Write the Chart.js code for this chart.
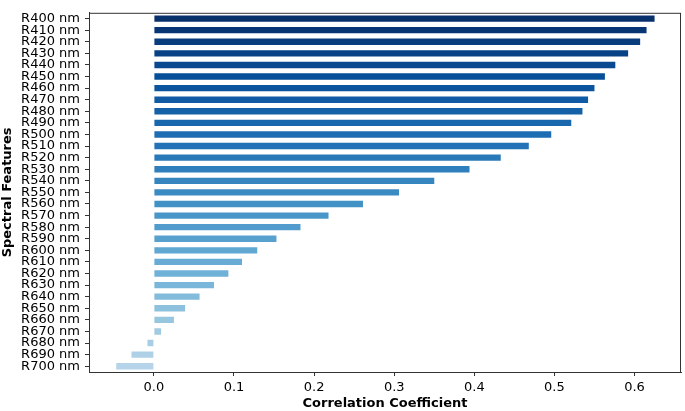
<!DOCTYPE html>
<html>
<head>
<meta charset="utf-8">
<script src="https://cdn.jsdelivr.net/npm/chart.js@4/dist/chart.umd.min.js"></script>
<style>
  html, body { margin: 0; padding: 0; background: #fff; }
  #wrap { width: 685px; height: 411px; }
</style>
</head>
<body>
<div id="wrap"><canvas id="chart" width="685" height="411"></canvas></div>
<script>
// wavelengths, top to bottom
var features = ['R400 nm', 'R410 nm', 'R420 nm', 'R430 nm', 'R440 nm', 'R450 nm', 'R460 nm', 'R470 nm',
	'R480 nm', 'R490 nm', 'R500 nm', 'R510 nm', 'R520 nm', 'R530 nm', 'R540 nm', 'R550 nm',
	'R560 nm', 'R570 nm', 'R580 nm', 'R590 nm', 'R600 nm', 'R610 nm', 'R620 nm', 'R630 nm',
	'R640 nm', 'R650 nm', 'R660 nm', 'R670 nm', 'R680 nm', 'R690 nm', 'R700 nm'];

var correlation = [0.625, 0.615, 0.607, 0.592, 0.576, 0.563, 0.550, 0.542,
	0.535, 0.521, 0.496, 0.468, 0.433, 0.394, 0.350, 0.306,
	0.261, 0.218, 0.183, 0.153, 0.129, 0.110, 0.093, 0.075,
	0.057, 0.039, 0.025, 0.009, -0.008, -0.028, -0.047];

var xTicks = [0.0, 0.1, 0.2, 0.3, 0.4, 0.5, 0.6];

// matplotlib "Blues" colormap stops
var bluesStops = ['#f7fbff', '#deebf7', '#c6dbef', '#9ecae1', '#6baed6', '#4292c6', '#2171b5', '#08519c', '#08306b'];

function hexToRgb(h) {
	return [parseInt(h.substr(1, 2), 16), parseInt(h.substr(3, 2), 16), parseInt(h.substr(5, 2), 16)];
}

function blues(t) {
	var pos = t * (bluesStops.length - 1);
	var i = Math.min(Math.floor(pos), bluesStops.length - 2);
	var f = pos - i;
	var a = hexToRgb(bluesStops[i]), b = hexToRgb(bluesStops[i + 1]);
	var c = a.map((v, k) => Math.round(v + (b[k] - v) * f));
	return 'rgb(' + c.join(',') + ')';
}

var barColors = features.map((f, i) => blues(1.0 - 0.7 * i / (features.length - 1)));

var frame = {
	id: 'frame',
	afterDraw: (chart) => {
		var a = chart.chartArea, ctx = chart.ctx;
		ctx.save();
		ctx.strokeStyle = '#333';
		ctx.lineWidth = 1;
		ctx.strokeRect(a.left + 0.5, a.top + 0.5, a.right - a.left - 1, a.bottom - a.top);
		ctx.restore();
	}
};

var font = { family: 'DejaVu Sans', size: 13 };

new Chart(document.getElementById('chart').getContext('2d'), {
	type: 'bar',
	data: {
		labels: features,
		datasets: [{
			data: correlation,
			backgroundColor: barColors,
			borderWidth: 0,
			barPercentage: 0.55,
			categoryPercentage: 1.0
		}]
	},
	options: {
		indexAxis: 'y',
		responsive: false,
		animation: false,
		layout: { padding: { top: 3, right: 4, left: 0, bottom: 0 } },
		plugins: { legend: { display: false }, tooltip: { enabled: false } },
		scales: {
			x: {
				type: 'linear',
				min: -0.081,
				max: 0.658,
				afterBuildTicks: (scale) => { scale.ticks = xTicks.map(v => ({ value: v })); },
				afterFit: (scale) => { scale.height = 39; },
				ticks: {
					color: '#000',
					font: font,
					padding: 4,
					callback: (v) => v.toFixed(1)
				},
				grid: { drawOnChartArea: false, drawTicks: true, tickLength: 4, tickColor: '#333' },
				border: { display: true, color: '#333', width: 1 },
				title: {
					display: true,
					text: 'Correlation Coefficient',
					color: '#000',
					font: { family: 'DejaVu Sans', size: 13, weight: 'bold' },
					padding: { top: 3, bottom: 0 }
				}
			},
			y: {
				offset: true,
				afterFit: (scale) => { scale.width = 89; },
				ticks: { color: '#000', font: font, padding: 5, autoSkip: false },
				grid: { offset: false, drawOnChartArea: false, drawTicks: true, tickLength: 4, tickColor: '#333' },
				border: { display: true, color: '#333', width: 1 },
				title: {
					display: true,
					text: 'Spectral Features',
					color: '#000',
					font: { family: 'DejaVu Sans', size: 13, weight: 'bold' },
					padding: { top: 0, bottom: 0 }
				}
			}
		}
	},
	plugins: [frame]
});
</script>
</body>
</html>
